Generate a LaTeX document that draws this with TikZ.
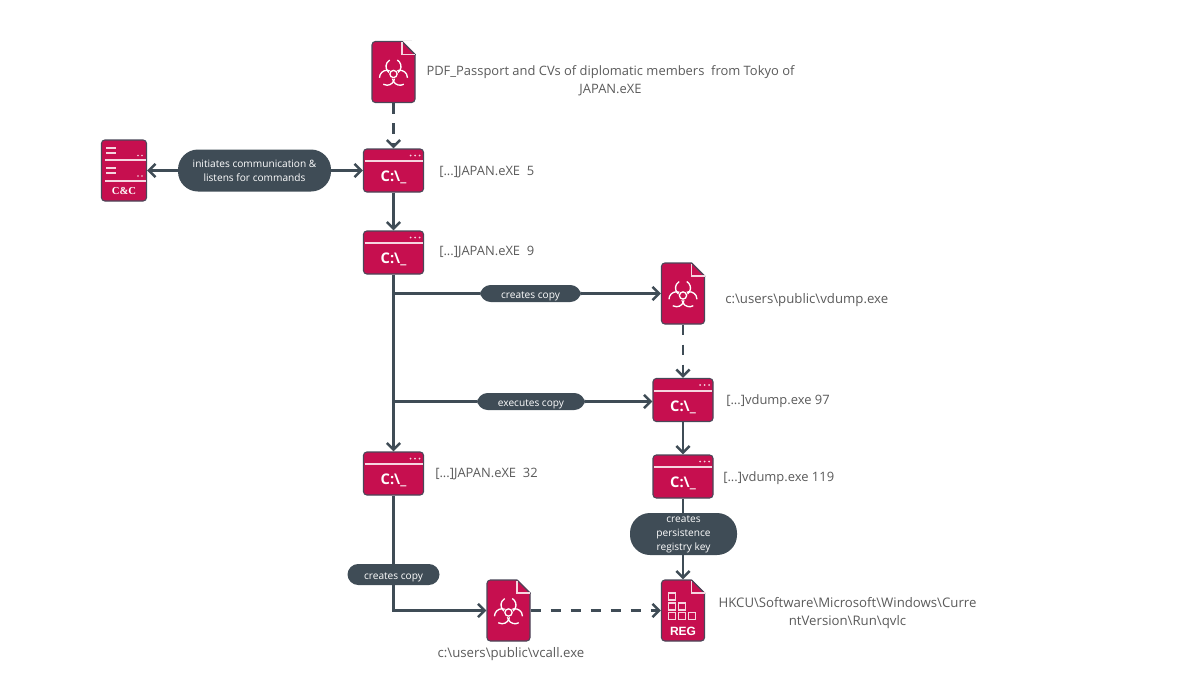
\documentclass[tikz,border=0pt]{standalone}
\usepackage{fontspec}
\setmainfont{Open Sans}
\newfontfamily\regfont{Liberation Sans}
\newfontfamily\ccfont{Liberation Serif}
\usetikzlibrary{arrows.meta, calc}
\definecolor{crimson}{HTML}{C60F4F}
\definecolor{edgeline}{HTML}{4A4658}
\definecolor{slate}{HTML}{3F4C56}
\definecolor{labelgrey}{HTML}{5A5A5A}
\definecolor{foldpink}{HTML}{F6D5E0}
\newcommand\pillstrut{\rule{0pt}{10pt}}
\tikzset{
  iconbase/.style = {draw=edgeline, fill=crimson, line width=.8pt, rounded corners=2.5pt, inner sep=0pt},
  filebox/.style = {iconbase, minimum width=32.25pt, minimum height=45.75pt},
  cmdbox/.style = {iconbase, minimum width=45pt, minimum height=32.25pt},
  ccbox/.style = {iconbase, minimum width=33.75pt, minimum height=45.75pt},
  pill/.style = {fill=slate, text=white, rounded corners=8pt, align=center, inner sep=0pt, font=\fontsize{7.6}{10.5}\selectfont, execute at begin node=\pillstrut},
  caption/.style = {text=labelgrey, align=center, inner sep=0pt, font=\fontsize{9.7}{13.5}\selectfont},
  pathcaption/.style = {caption, font=\fontsize{9.9}{13.5}\selectfont},
  link/.style = {draw=slate, line width=1.9pt, -{Straight Barb[length=5pt,width=10pt,line width=1.9pt]}},
  plain/.style = {draw=slate, line width=1.9pt},
  dashlink/.style = {link, dash pattern=on 8pt off 7pt},
  iconline/.style = {draw=foldpink, line width=1pt},
  fold/.pic = {
    \fill[white] (8.5,-31.5) -- (23,-31.5) -- (23,-17) -- cycle;
    \draw[edgeline, line width=.8pt] (8.5,-30.5) -- (22,-17);
    \draw[iconline] (8.5,-30) -- (8.5,-17.5) -- (21.5,-17.5);
  },
  hazard/.pic = {
    \foreach \ang in {270,30,150}{
      \draw[white, line width=1pt] ($(\ang:7.5)+(\ang+30:7.5)$) arc[start angle=\ang+30, delta angle=300, radius=7.5];
    }
    \fill[crimson] (0,0) circle (5);
    \draw[white, line width=1pt] (0,0) circle (3.6);
  },
  cmdmarks/.pic = {
    \draw[iconline, line width=1.5pt] (-29,-9.5) -- (29,-9.5);
    \foreach \dotx in {17,21.5,26}{
      \fill[foldpink] (\dotx,-15) circle (1);
    }
    \node[white, font=\bfseries\fontsize{11}{12}\selectfont] at (0,7) {C:\textbackslash\_};
  }
}
\begin{document}
\begin{tikzpicture}[x=.75pt, y=-.75pt]
  \useasboundingbox (0,0) rectangle (1200,675);

  % files
  \node[filebox] (dropper) at (393.5,72) {};
  \node[filebox] (vdumpfile) at (683,293.5) {};
  \node[filebox] (vcallfile) at (508.5,610.5) {};
  \node[filebox] (regfile) at (683,610.5) {};
  \foreach \n in {dropper,vdumpfile,vcallfile,regfile}{
    \pic at (\n) {fold};
  }
  \foreach \n in {dropper,vdumpfile,vcallfile}{
    \pic at ($(\n)+(0,2)$) {hazard};
  }
  % registry blocks
  \foreach \bx/\by in {-14.5/-17.5,-14.5/-7.5,-4.5/-7.5,-14.5/2,-4.5/2,5.5/2}{
    \draw[iconline, line width=1.4pt] ($(regfile)+(\bx,\by)$) rectangle ++(7,7);
  }
  \node[white, font=\regfont\bfseries\fontsize{9}{10}\selectfont] (regtext) at ($(regfile)+(0,20.5)$) {REG};

  % processes
  \node[cmdbox] (japan5) at (393.5,170.5) {};
  \node[cmdbox] (japan9) at (393.5,252.5) {};
  \node[cmdbox] (japan32) at (393.5,473.5) {};
  \node[cmdbox] (vdump97) at (683,400) {};
  \node[cmdbox] (vdump119) at (683,476.5) {};
  \foreach \n in {japan5,japan9,japan32,vdump97,vdump119}{
    \pic at (\n) {cmdmarks};
  }

  % server
  \node[ccbox] (cnc) at (124,170.5) {};
  \foreach \ly in {148,153,168,173}{
    \draw[iconline, line width=1.2pt] (106,\ly) -- (116,\ly);
  }
  \foreach \ly in {160,181}{
    \draw[iconline, line width=1.4pt] (105,\ly) -- (146,\ly);
  }
  \foreach \ly in {155.5,176}{
    \fill[foldpink] (138,\ly) circle (.9) (142,\ly) circle (.9);
  }
  \node[white, font=\ccfont\bfseries\fontsize{8}{10}\selectfont] (cnctext) at (124,191) {C\&C};

  % pills
  \node[pill, minimum width=114.75pt, minimum height=31.5pt, rounded corners=15pt] (talk) at (254.5,170.5) {initiates communication \&\\listens for commands};
  \node[pill, minimum width=75.75pt, minimum height=12.75pt] (copyone) at (530.5,293.5) {creates copy};
  \node[pill, minimum width=81pt, minimum height=12.75pt] (runcopy) at (531,401.5) {executes copy};
  \node[pill, minimum width=69pt, minimum height=15.75pt] (copytwo) at (393.5,574.5) {creates copy};
  \node[pill, minimum width=80.25pt, minimum height=31.5pt, rounded corners=15pt] (persist) at (683.5,534) {creates\\persistence\\registry key};

  % labels
  \node[caption] (dropperlabel) at (610.5,81) {PDF\_Passport and CVs of diplomatic members~ from Tokyo of\\JAPAN.eXE};
  \node[caption, anchor=west] (labelfive) at (439,172) {[...]JAPAN.eXE~ 5};
  \node[caption, anchor=west] (labelnine) at (439,252) {[...]JAPAN.eXE~ 9};
  \node[pathcaption, anchor=west] (labelvdump) at (725,300) {c:\textbackslash users\textbackslash public\textbackslash vdump.exe};
  \node[caption, anchor=west] (labelninety) at (726,401) {[...]vdump.exe 97};
  \node[caption, anchor=west] (labelhundred) at (723,478) {[...]vdump.exe 119};
  \node[caption, anchor=west] (labelthirty) at (435,474) {[...]JAPAN.eXE~ 32};
  \node[pathcaption] (labelvcall) at (511,654) {c:\textbackslash users\textbackslash public\textbackslash vcall.exe};
  \node[pathcaption] (labelreg) at (847.5,613) {HKCU\textbackslash Software\textbackslash Microsoft\textbackslash Windows\textbackslash Curre\\ntVersion\textbackslash Run\textbackslash qvlc};

  % branch points on the main line
  \coordinate (branchone) at (japan9 |- copyone);
  \coordinate (branchtwo) at (japan9 |- runcopy);
  \coordinate (runend) at (vdump97.west |- runcopy);

  % connectors
  \draw[dashlink] (dropper) -- (japan5);
  \draw[link] (talk) -- (japan5);
  \draw[link] (talk) -- (cnc);
  \draw[link] (japan5) -- (japan9);
  \draw[link] (japan9) -- (japan32);
  \draw[plain] (branchone) -- (copyone);
  \draw[link] (copyone) -- (vdumpfile);
  \draw[plain] (branchtwo) -- (runcopy);
  \draw[link] (runcopy) -- (runend);
  \draw[dashlink] (vdumpfile) -- (vdump97);
  \draw[link] (vdump97) -- (vdump119);
  \draw[plain] (vdump119) -- (vdump119 |- persist.north);
  \draw[link] (persist.south -| regfile) -- (regfile);
  \draw[plain] (japan32) -- (copytwo);
  \draw[link] (copytwo) |- (vcallfile);
  \draw[dashlink] (vcallfile) -- (regfile);
\end{tikzpicture}
\end{document}
